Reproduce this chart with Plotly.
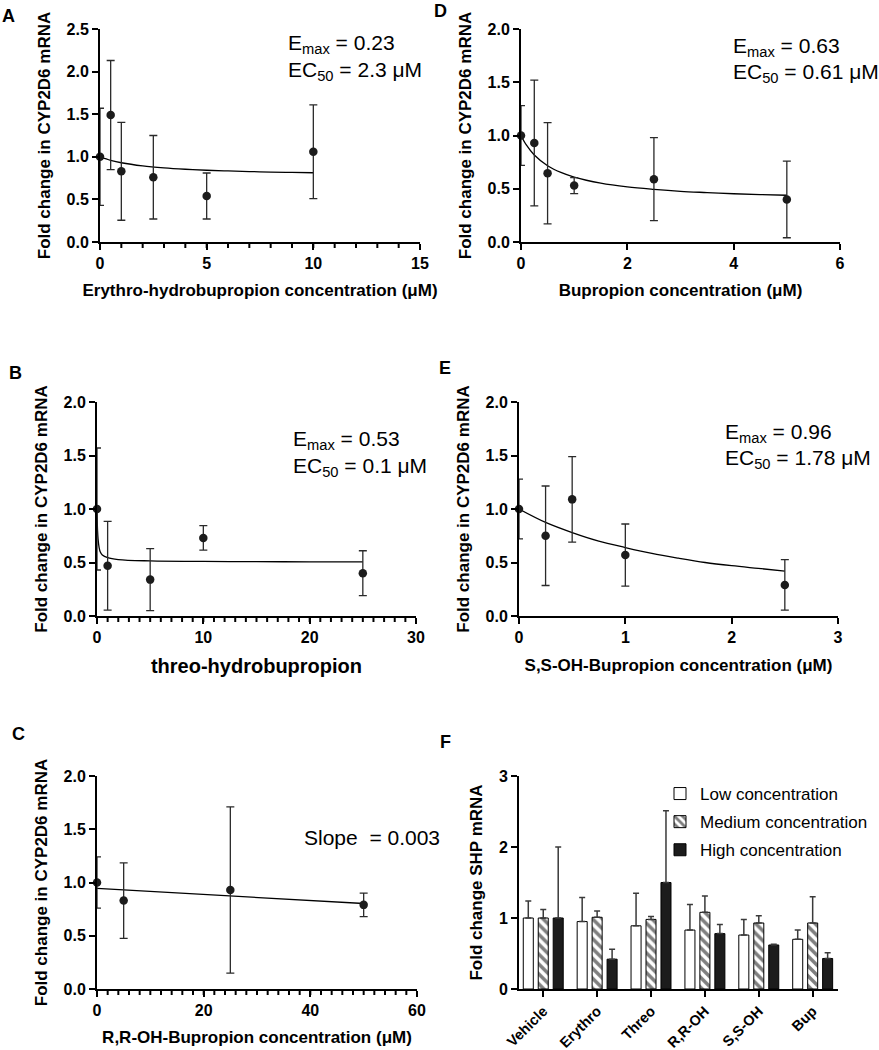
import plotly.graph_objects as go
from plotly.subplots import make_subplots

W, H = 879, 1050
FONT = "Arial, 'Liberation Sans', sans-serif"

# ---------------- data ----------------
A_x = [0, 0.5, 1, 2.5, 5, 10]
A_y = [1.0, 1.49, 0.83, 0.76, 0.54, 1.06]
A_err = [0.57, 0.64, 0.575, 0.49, 0.27, 0.55]
A_fit_x = [0, 0.5, 1, 2, 3, 4, 5, 6, 7, 8, 9, 10]
A_fit_y = [1.0, 0.959, 0.930, 0.893, 0.870, 0.854, 0.842, 0.834, 0.827, 0.821, 0.817, 0.813]

D_x = [0, 0.25, 0.5, 1, 2.5, 5]
D_y = [1.0, 0.93, 0.645, 0.53, 0.59, 0.40]
D_err = [0.28, 0.59, 0.475, 0.075, 0.39, 0.36]
D_fit_x = [0, 0.1, 0.25, 0.5, 0.75, 1, 1.5, 2, 2.5, 3, 3.5, 4, 4.5, 5]
D_fit_y = [1.0, 0.911, 0.817, 0.716, 0.653, 0.609, 0.552, 0.517, 0.494, 0.476, 0.464, 0.453, 0.445, 0.439]

B_x = [0, 1, 5, 10, 25]
B_y = [1.0, 0.47, 0.34, 0.73, 0.40]
B_err = [0.57, 0.415, 0.29, 0.115, 0.21]
B_fit_x = [0, 0.05, 0.1, 0.2, 0.3, 0.5, 1, 2, 5, 10, 15, 20, 25]
B_fit_y = [1.0, 0.80, 0.72, 0.64, 0.60, 0.57, 0.545, 0.527, 0.515, 0.510, 0.508, 0.506, 0.505]

E_x = [0, 0.25, 0.5, 1, 2.5]
E_y = [1.0, 0.75, 1.09, 0.57, 0.29]
E_err = [0.28, 0.465, 0.40, 0.29, 0.236]
E_fit_x = [0, 0.25, 0.5, 0.75, 1, 1.25, 1.5, 1.75, 2, 2.25, 2.5]
E_fit_y = [1.0, 0.875, 0.78, 0.70, 0.64, 0.585, 0.54, 0.50, 0.47, 0.445, 0.42]

C_x = [0, 5, 25, 50]
C_y = [1.0, 0.83, 0.93, 0.79]
C_err = [0.24, 0.355, 0.78, 0.11]
C_fit_x = [0, 50]
C_fit_y = [0.944, 0.803]

F_groups = ["Vehicle", "Erythro", "Threo", "R,R-OH", "S,S-OH", "Bup"]
F_low = [1.0, 0.95, 0.89, 0.83, 0.76, 0.70]
F_low_err = [0.24, 0.34, 0.46, 0.36, 0.22, 0.13]
F_med = [1.0, 1.01, 0.98, 1.08, 0.93, 0.93]
F_med_err = [0.12, 0.09, 0.04, 0.23, 0.10, 0.37]
F_high = [1.0, 0.42, 1.50, 0.78, 0.62, 0.43]
F_high_err = [1.0, 0.14, 1.01, 0.13, 0.01, 0.08]

# ---------------- figure ----------------
fig = make_subplots(rows=3, cols=2)


def dom_x(x0, x1):
    return [x0 / W, x1 / W]


def dom_y(y0, y1):
    return [1 - y1 / H, 1 - y0 / H]


panels = {
    (1, 1): ((100, 420), (29, 242)),
    (1, 2): ((521, 840), (29, 242)),
    (2, 1): ((97, 416), (402, 616)),
    (2, 2): ((519, 838), (402, 616)),
    (3, 1): ((97, 417), (776, 989)),
    (3, 2): ((519, 838), (776, 989)),
}


def add_dose(row, col, xs, ys, errs, fx, fy, shape="spline"):
    fig.add_trace(go.Scatter(x=fx, y=fy, mode="lines", line=dict(color="black", width=1.3, shape=shape),
                             showlegend=False, cliponaxis=False, hoverinfo="skip"), row=row, col=col)
    fig.add_trace(go.Scatter(x=xs, y=ys, mode="markers",
                             marker=dict(size=8.5, color="#1c1c1c"),
                             error_y=dict(type="data", array=errs, color="#2a2a2a", thickness=1.3, width=4),
                             showlegend=False, cliponaxis=False), row=row, col=col)


add_dose(1, 1, A_x, A_y, A_err, A_fit_x, A_fit_y)
add_dose(1, 2, D_x, D_y, D_err, D_fit_x, D_fit_y)
add_dose(2, 1, B_x, B_y, B_err, B_fit_x, B_fit_y)
add_dose(2, 2, E_x, E_y, E_err, E_fit_x, E_fit_y)
add_dose(3, 1, C_x, C_y, C_err, C_fit_x, C_fit_y, shape="linear")

bar_line = dict(color="black", width=1)
err_kw = dict(type="data", symmetric=False, color="#3a3a3a", thickness=1.5, width=3)
fig.add_trace(go.Bar(x=F_groups, y=F_low, name="Low concentration", legendgroup="low",
                     marker=dict(color="white", line=bar_line),
                     error_y=dict(array=F_low_err, arrayminus=[0] * len(F_low), **err_kw)), row=3, col=2)
fig.add_trace(go.Bar(x=F_groups, y=F_med, name="Medium concentration", legendgroup="med",
                     marker=dict(color="white", line=bar_line,
                                 pattern=dict(shape="\\", fgcolor="black", bgcolor="white", size=7, solidity=0.5)),
                     error_y=dict(array=F_med_err, arrayminus=[0] * len(F_med), **err_kw)), row=3, col=2)
fig.add_trace(go.Bar(x=F_groups, y=F_high, name="High concentration", legendgroup="high",
                     marker=dict(color="#1c1c1c", line=bar_line),
                     error_y=dict(array=F_high_err, arrayminus=[0] * len(F_high), **err_kw)), row=3, col=2)

tickfont = dict(family=FONT, size=16, color="black", weight="bold")
titlefont = dict(family=FONT, size=17, color="black", weight="bold")
axis_common = dict(showline=True, linecolor="black", linewidth=2, ticks="outside", ticklen=6, tickwidth=2,
                   tickcolor="black", showgrid=False, zeroline=False, tickfont=tickfont, mirror=False,
                   automargin=False)

for (r, c), (xd, yd) in panels.items():
    fig.update_xaxes(domain=dom_x(*xd), row=r, col=c, **axis_common)
    fig.update_yaxes(domain=dom_y(*yd), row=r, col=c, **axis_common)

ytitle = "Fold change in CYP2D6 mRNA"
# A
fig.update_xaxes(range=[0, 15], dtick=5,
                 title=dict(text="Erythro-hydrobupropion concentration (μM)", font=titlefont, standoff=13), row=1, col=1)
fig.update_yaxes(range=[0, 2.5], dtick=0.5, tickformat=".1f",
                 title=dict(text=ytitle, font=titlefont, standoff=12), row=1, col=1)
# D
fig.update_xaxes(range=[0, 6], dtick=2,
                 title=dict(text="Bupropion concentration (μM)", font=titlefont, standoff=13), row=1, col=2)
fig.update_yaxes(range=[0, 2.0], dtick=0.5, tickformat=".1f",
                 title=dict(text=ytitle, font=titlefont, standoff=12), row=1, col=2)
# B
fig.update_xaxes(range=[0, 30], dtick=10,
                 title=dict(text="threo-hydrobupropion", font=dict(family=FONT, size=20, color="black", weight="bold"),
                            standoff=14), row=2, col=1)
fig.update_yaxes(range=[0, 2.0], dtick=0.5, tickformat=".1f",
                 title=dict(text=ytitle, font=titlefont, standoff=12), row=2, col=1)
# E
fig.update_xaxes(range=[0, 3], dtick=1,
                 title=dict(text="S,S-OH-Bupropion concentration (μM)", font=titlefont, standoff=14), row=2, col=2)
fig.update_yaxes(range=[0, 2.0], dtick=0.5, tickformat=".1f",
                 title=dict(text=ytitle, font=titlefont, standoff=12), row=2, col=2)
# C
fig.update_xaxes(range=[0, 60], dtick=20,
                 title=dict(text="R,R-OH-Bupropion concentration (μM)", font=titlefont, standoff=13), row=3, col=1)
fig.update_yaxes(range=[0, 2.0], dtick=0.5, tickformat=".1f",
                 title=dict(text=ytitle, font=titlefont, standoff=12), row=3, col=1)
# F
fig.update_xaxes(type="category", range=[-0.45, 5.47], tickangle=-45,
                 tickfont=dict(family=FONT, size=14.5, color="black", weight="bold"), row=3, col=2)
fig.update_yaxes(range=[0, 3], dtick=1,
                 title=dict(text="Fold change SHP mRNA", font=titlefont, standoff=12), row=3, col=2)

# minor x ticks (axis decoration) for panels A, B, C
shapes = []
for xref, yref, step, stop in [("x", "y domain", 1, 15), ("x3", "y3 domain", 1, 30), ("x5", "y5 domain", 2, 60)]:
    for v in range(step, stop, step):
        shapes.append(dict(type="line", xref=xref, yref=yref, x0=v, x1=v, y0=0, y1=-6 / 213,
                           line=dict(color="black", width=2), layer="above"))

annos = []
for letter, (px, py) in {"A": (8.5, 16.5), "D": (440, 11), "B": (15.5, 373), "E": (445, 368.5),
                         "C": (18.5, 734), "F": (446, 742)}.items():
    annos.append(dict(text=letter, x=px / W, y=1 - py / H, xref="paper", yref="paper", showarrow=False,
                      xanchor="center", yanchor="middle", font=dict(family=FONT, size=18, color="black", weight="bold")))

stat_font = dict(family=FONT, size=21, color="black")
for txt, (px, py) in [
    ("E<sub>max</sub> = 0.23", (286, 44)),
    ("EC<sub>50</sub> = 2.3 μM", (286, 71)),
    ("E<sub>max</sub> = 0.63", (731, 47)),
    ("EC<sub>50</sub> = 0.61 μM", (731, 73)),
    ("E<sub>max</sub> = 0.53", (291, 440)),
    ("EC<sub>50</sub> = 0.1 μM", (291, 467)),
    ("E<sub>max</sub> = 0.96", (723, 433)),
    ("EC<sub>50</sub> = 1.78 μM", (723, 459)),
    ("Slope  = 0.003", (302, 837)),
]:
    annos.append(dict(text=txt, x=px / W, y=1 - py / H, xref="paper", yref="paper", showarrow=False,
                      xanchor="left", yanchor="middle", align="left", font=stat_font))

fig.update_layout(
    width=W, height=H, margin=dict(l=0, r=0, t=0, b=0),
    paper_bgcolor="white", plot_bgcolor="white",
    font=dict(family=FONT, color="black"),
    barmode="group", bargap=0.167, bargroupgap=0.33,
    annotations=annos, shapes=shapes,
    legend=dict(x=660 / W, y=1 - 776 / H, xanchor="left", yanchor="top",
                font=dict(family=FONT, size=17, color="black"), bgcolor="rgba(0,0,0,0)",
                tracegroupgap=3),
)

fig.write_html("out.html", config={"displayModeBar": False},
               post_script="document.body.style.margin='0';document.body.style.padding='0';")
